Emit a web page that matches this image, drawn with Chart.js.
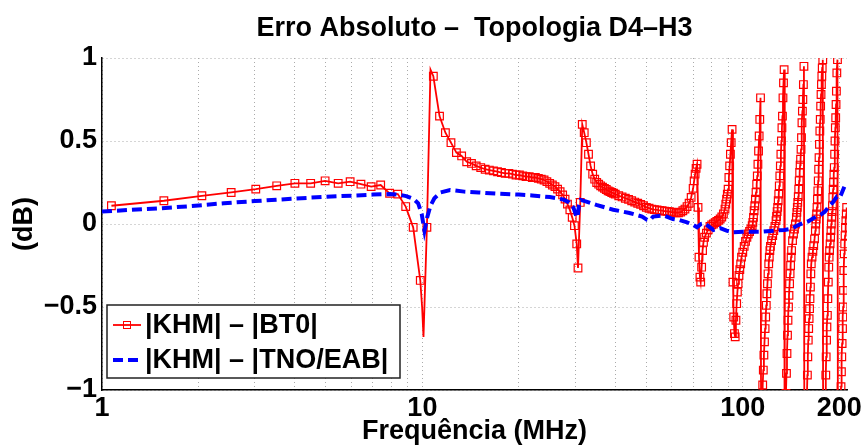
<!DOCTYPE html>
<html>
<head>
<meta charset="utf-8">
<title>Erro Absoluto - Topologia D4-H3</title>
<script src="https://cdn.jsdelivr.net/npm/chart.js@4.4.1/dist/chart.umd.min.js"></script>
<style>
  html, body { margin: 0; padding: 0; background: #fff; }
</style>
</head>
<body>
<canvas id="myChart" width="865" height="448"></canvas>
<script>
// frequencies in MHz, errors in dB
const bt0Freq = [
  1.07,1.56,2.05,2.53,3.02,3.51,4.0,4.48,4.97,5.46,
  5.95,6.43,6.92,7.41,7.9,8.38,8.87,9.36,9.85,9.98,
  10.08,10.33,10.6,10.82,11.31,11.8,12.28,12.77,13.26,13.75,
  14.23,14.72,15.21,15.7,16.18,16.67,17.16,17.65,18.13,18.62,
  19.11,19.6,20.08,20.57,21.06,21.55,22.03,22.52,23.01,23.5,
  23.98,24.47,24.96,25.45,25.93,26.42,26.91,27.4,27.88,28.37,
  28.86,29.35,29.83,30.32,30.6,31.1,31.55,32.0,32.5,33.0,
  33.5,34.0,34.5,35.0,35.5,36.0,36.5,37.0,37.5,38.0,
  38.5,39.0,39.5,40,41,42,43,44,45,46,
  47,48,49,50,51,52,53,54,55,56,
  57,58,59,60,61,62,63,64,65,66,
  67,68,69,70,70.5,71,71.5,72,72.5,73,
  73.5,73.9,74.4,74.9,75.4,76,77,78,79,80,
  81,82,83,84,85,86,87,88,88.5,89,
  89.5,90,90.5,91,91.5,92,92.6,93.2,93.7,94.2,
  94.7,95.2,95.7,96.2,96.7,97.3,97.9,98.5,99.1,100,
  101,102,103,104,105,106,107,107.5,108,108.5,
  109,109.5,110,110.5,111,111.5,112,112.5,113,113.6,
  114.2,114.8,115.4,115.9,116.4,116.9,117.4,117.9,118.4,118.9,
  119.4,119.9,120.5,121,121.5,122,123,124,125,126,
  127,127.5,128,128.5,129,129.5,130,130.5,131,131.5,
  132,132.5,133,133.5,134,134.6,135.2,135.8,136.4,136.9,
  137.4,137.9,138.4,138.9,139.4,140,140.5,141,141.5,142,
  143,144,145,146,147,147.5,148,148.5,149,149.5,
  150,150.5,151,151.5,152,152.5,153,153.5,154,154.6,
  155.2,155.8,156.5,157.5,158.5,159.1,159.6,160.1,160.6,161.1,
  161.6,162.1,162.6,163.1,163.6,164.5,165.5,166.5,167.5,168.5,
  169,169.5,170,170.5,171,171.5,172,172.5,173,173.5,
  174,174.5,175,175.5,176,176.5,177,177.7,178.3,179,
  180,181,181.6,182.1,182.6,183.1,183.7,184.3,184.9,185.5,
  186,186.6,187.3,188,188.5,189,189.5,190,190.5,191,
  191.5,192,192.5,193,193.5,194,194.5,195,195.5,196,
  196.6,197.5,198.3,199,200,201,202,202.6,203.2,203.7,
  204.2,204.8,205.3,205.8,206.3,206.8,207.3,208,208.6,209.2,
  209.8,210.4,211
];
const bt0Err = [
  0.11,0.14,0.17,0.19,0.21,0.23,0.245,0.245,0.26,0.245,
  0.255,0.24,0.225,0.235,0.185,0.18,0.105,-0.02,-0.34,-0.5,
  -0.68,-0.02,0.93,0.89,0.65,0.55,0.49,0.43,0.41,0.375,
  0.365,0.35,0.34,0.33,0.325,0.32,0.315,0.31,0.305,0.305,
  0.3,0.295,0.295,0.29,0.285,0.285,0.28,0.28,0.275,0.27,
  0.265,0.255,0.245,0.235,0.225,0.21,0.195,0.175,0.15,0.12,
  0.085,0.04,-0.01,-0.12,-0.265,0.13,0.6,0.55,0.49,0.42,
  0.35,0.3,0.27,0.25,0.24,0.23,0.222,0.215,0.208,0.2,
  0.195,0.19,0.185,0.18,0.17,0.163,0.155,0.148,0.14,0.132,
  0.125,0.118,0.11,0.1,0.095,0.09,0.087,0.085,0.082,0.08,
  0.078,0.076,0.074,0.072,0.07,0.068,0.068,0.072,0.08,0.09,
  0.105,0.125,0.16,0.215,0.26,0.3,0.335,0.36,0.1,-0.2,
  -0.32,-0.35,-0.26,-0.16,-0.11,-0.08,-0.055,-0.035,-0.015,-0.005,
  0.0,0.008,0.015,0.022,0.03,0.042,0.06,0.09,0.12,0.15,
  0.18,0.21,0.28,0.35,0.42,0.49,0.57,-0.35,-0.56,-0.66,
  -0.68,-0.58,-0.48,-0.41,-0.36,-0.31,-0.275,-0.24,-0.2,-0.17,
  -0.135,-0.105,-0.08,-0.06,-0.045,-0.03,-0.01,0.01,0.04,0.08,
  0.11,0.15,0.19,0.24,0.29,0.36,0.44,0.53,0.63,0.76,
  -1.8,-1.2,-0.97,-0.88,-0.79,-0.71,-0.63,-0.56,-0.49,-0.42,
  -0.36,-0.3,-0.24,-0.2,-0.16,-0.135,-0.1,-0.07,-0.04,-0.015,
  0.02,0.045,0.075,0.1,0.14,0.18,0.23,0.29,0.35,0.42,
  0.5,0.58,0.65,0.76,0.85,0.93,-2,-1.3,-1.02,-0.9,
  -0.78,-0.67,-0.58,-0.5,-0.43,-0.36,-0.3,-0.25,-0.2,-0.16,
  -0.1,-0.06,-0.03,0.0,0.04,0.07,0.1,0.13,0.165,0.21,
  0.26,0.31,0.355,0.39,0.45,0.52,0.61,0.68,0.75,0.84,
  0.95,-2,-1.6,-1.25,-1.05,-0.91,-0.8,-0.7,-0.63,-0.57,
  -0.51,-0.45,-0.38,-0.3,-0.24,-0.2,-0.165,-0.13,-0.09,-0.04,
  0.0,0.03,0.06,0.1,0.15,0.2,0.26,0.33,0.4,0.48,
  0.56,0.63,0.71,0.78,0.84,0.89,0.94,0.99,-2,-1.6,
  -1.3,-1.05,-0.91,-0.8,-0.7,-0.62,-0.55,-0.45,-0.35,-0.26,
  -0.2,-0.16,-0.12,-0.08,-0.04,0.0,0.04,0.075,0.11,0.16,
  0.21,0.25,0.3,0.34,0.42,0.5,0.58,0.64,0.72,0.8,
  0.91,0.99,-2,-1.8,-1.5,-1.3,-1.1,-0.98,-0.89,-0.8,
  -0.72,-0.63,-0.56,-0.5,-0.4,-0.28,-0.18,-0.12,-0.07,-0.02,
  0.02,0.06,0.1
];
// points of the red curve drawn without a square marker
const bt0NoMarker = [9.98, 10.08, 10.6];

const tnoFreq = [
  1.0,1.2,1.5,1.9,2.4,3.0,3.9,4.9,6.2,7.0,
  7.9,8.5,8.9,9.4,9.7,9.95,10.15,10.35,10.6,10.9,
  11.4,12.2,13.5,15,17,20,22,25,27.5,28.7,
  29.6,30.2,30.5,30.8,31.2,32.5,34.9,39.4,44.3,48.5,
  50.3,51.3,52.5,56.4,60.5,63.3,67,70,72,74,
  76,79,81,85,89,93,100,108,115.5,125,
  135,142,147,154,160,166,175,180.3,186.6,191,
  196.7,201,204,207.5
];
const tnoErr = [
  0.075,0.084,0.094,0.108,0.125,0.138,0.152,0.163,0.172,0.177,
  0.18,0.176,0.168,0.15,0.125,0.06,-0.04,0.04,0.11,0.155,
  0.19,0.205,0.195,0.19,0.183,0.177,0.172,0.162,0.148,0.13,
  0.1,0.05,0.04,0.11,0.145,0.135,0.115,0.086,0.066,0.045,
  0.025,0.022,0.045,0.052,0.03,0.024,0.01,-0.006,-0.02,0.0,
  0.004,-0.02,-0.036,-0.025,-0.04,-0.05,-0.046,-0.046,-0.046,-0.04,
  -0.036,-0.028,-0.012,0.005,0.016,0.035,0.055,0.074,0.11,0.13,
  0.165,0.16,0.19,0.225
];

const seriesNames = ["|KHM| – |BT0|", "|KHM| – |TNO/EAB|"];
const titleText = "Erro Absoluto –  Topologia D4–H3";
const xAxisName = "Frequência (MHz)";
const yAxisName = "(dB)";

const xGridValues = [1,2,3,4,5,6,7,8,9,10,20,30,40,50,60,70,80,90,100,200];
const xLabelValues = [1, 10, 100, 200];
const yTickValues = [-1, -0.5, 0, 0.5, 1];
const yTickLabels = ["−1", "−0.5", "0", "0.5", "1"];

Chart.defaults.font.family = "'Liberation Sans', Arial, Helvetica, sans-serif";
Chart.defaults.font.weight = "bold";
Chart.defaults.color = "#000";

const bt0Points = bt0Freq.map((f, i) => ({x: f, y: bt0Err[i]}));
const tnoPoints = tnoFreq.map((f, i) => ({x: f, y: tnoErr[i]}));
const bt0Radius = bt0Freq.map(f => bt0NoMarker.includes(f) ? 0 : 5.4);

// legend box inside the plot, lower left
const legendBox = {
    id: "legendBox",
    afterDraw(chart) {
        const ctx = chart.ctx;
        const a = chart.chartArea;
        const x0 = a.left + 5, y0 = a.bottom - 85, w = 293, h = 73;
        ctx.save();
        ctx.fillStyle = "#fff";
        ctx.fillRect(x0, y0, w, h);
        ctx.strokeStyle = "#222";
        ctx.lineWidth = 1.5;
        ctx.strokeRect(x0, y0, w, h);

        const rows = [y0 + 20, y0 + 55];
        const sets = [chart.data.datasets[1], chart.data.datasets[0]];
        sets.forEach((ds, i) => {
            const y = rows[i];
            ctx.beginPath();
            ctx.strokeStyle = ds.borderColor;
            ctx.lineWidth = ds.borderWidth;
            ctx.setLineDash(ds.borderDash || []);
            ctx.moveTo(x0 + 6, y);
            ctx.lineTo(x0 + 34, y);
            ctx.stroke();
            ctx.setLineDash([]);
            if (ds.pointStyle === "rect") {
                ctx.lineWidth = 1;
                ctx.strokeRect(x0 + 20 - 3.5, y - 3.5, 7, 7);
            }
            ctx.fillStyle = "#000";
            ctx.font = "bold 27px 'Liberation Sans', Arial, sans-serif";
            ctx.textBaseline = "middle";
            ctx.textAlign = "left";
            ctx.fillText(seriesNames[i], x0 + 38, y + 1);
        });
        ctx.restore();
    }
};

const config = {
    type: "line",
    data: {
        datasets: [{
            label: seriesNames[1],
            data: tnoPoints,
            borderColor: "#0000ff",
            borderWidth: 4,
            borderDash: [10, 5],
            pointRadius: 0,
            tension: 0,
            order: 0,
            clip: 0
        }, {
            label: seriesNames[0],
            data: bt0Points,
            borderColor: "#ff0000",
            borderWidth: 1.8,
            pointStyle: "rect",
            pointRadius: bt0Radius,
            pointBorderColor: "#ff0000",
            pointBackgroundColor: "rgba(0,0,0,0)",
            pointBorderWidth: 1.2,
            tension: 0,
            order: 1,
            clip: 0
        }]
    },
    options: {
        responsive: false,
        animation: false,
        events: [],
        layout: { padding: { left: 0, right: 18, top: 0, bottom: 0 } },
        plugins: {
            legend: { display: false },
            tooltip: { enabled: false },
            title: {
                display: true,
                text: titleText,
                fullSize: false,
                font: { size: 27, weight: "bold" },
                padding: { top: 12, bottom: 13.6 }
            }
        },
        scales: {
            x: {
                type: "logarithmic",
                min: 1,
                max: 211.5,
                afterBuildTicks: (scale) => {
                    scale.ticks = xGridValues.map(v => ({ value: v }));
                },
                afterFit: (scale) => {
                    scale.height = 58;
                    scale.paddingLeft = 0;
                    scale.paddingRight = 0;
                },
                ticks: {
                    autoSkip: false,
                    maxRotation: 0,
                    minRotation: 0,
                    padding: 2,
                    font: { size: 27, weight: "bold" },
                    callback: (value) => xLabelValues.includes(value) ? String(value) : ""
                },
                grid: { color: "#aaa", lineWidth: 1, drawTicks: false },
                border: { display: true, color: "#000", width: 1.5, dash: [1, 3] },
                title: {
                    display: true,
                    text: xAxisName,
                    font: { size: 27, weight: "bold" },
                    padding: { top: 0, bottom: 0 }
                }
            },
            y: {
                type: "linear",
                min: -1,
                max: 1,
                afterBuildTicks: (scale) => {
                    scale.ticks = yTickValues.map(v => ({ value: v }));
                },
                afterFit: (scale) => {
                    scale.width = 102;
                    scale.paddingTop = 0;
                    scale.paddingBottom = 0;
                },
                ticks: {
                    padding: 5,
                    font: { size: 27, weight: "bold" },
                    callback: (value) => yTickLabels[yTickValues.indexOf(value)]
                },
                grid: { color: "#aaa", lineWidth: 1, drawTicks: false },
                border: { display: true, color: "#000", width: 1.5, dash: [1, 3] },
                title: {
                    display: true,
                    text: yAxisName,
                    font: { size: 27, weight: "bold" },
                    padding: { top: 8, bottom: 0 }
                }
            }
        }
    },
    plugins: [legendBox]
};

const myChart = new Chart(document.getElementById("myChart"), config);
</script>
</body>
</html>
